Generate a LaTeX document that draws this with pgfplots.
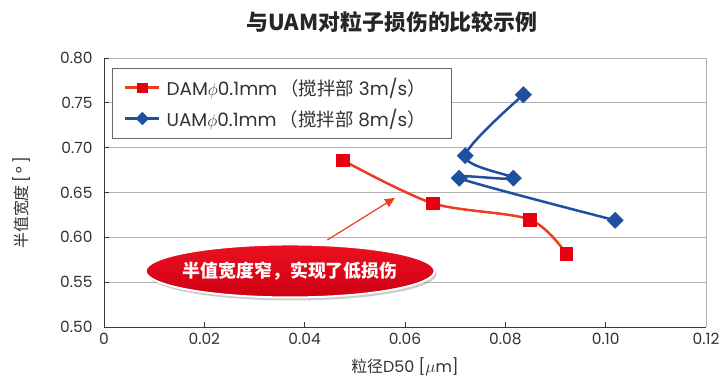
\documentclass[border=0pt]{standalone}
\usepackage{fontspec}
\setmainfont{Poppins}
\newfontfamily\cjk{Noto Sans CJK SC}
\usepackage{pgfplots}
\pgfplotsset{compat=1.18}
\usetikzlibrary{shapes.geometric,shadows,arrows.meta}
\definecolor{damred}{RGB}{230,0,18}
\definecolor{damline}{RGB}{234,62,30}
\definecolor{uamblue}{RGB}{31,80,160}
\definecolor{gridgray}{RGB}{178,178,178}
\definecolor{axisdark}{RGB}{60,55,55}
\definecolor{txt}{RGB}{50,50,50}
\definecolor{balloontop}{RGB}{236,16,32}
\definecolor{balloonbot}{RGB}{205,0,18}

\begin{document}
\begin{tikzpicture}
\path[use as bounding box] (0,0) rectangle (722bp,380bp);
\begin{axis}[
  at={(104bp,53bp)}, anchor=south west,
  scale only axis, width=602bp, height=269bp,
  xmin=0, xmax=0.12, ymin=0.5, ymax=0.8,
  xtick={0,0.02,0.04,0.06,0.08,0.10,0.12},
  xticklabels={0,0.02,0.04,0.06,0.08,0.10,0.12},
  ytick={0.50,0.55,0.60,0.65,0.70,0.75,0.80},
  yticklabels={0.50,0.55,0.60,0.65,0.70,0.75,0.80},
  axis lines*=left,
  axis line style={axisdark, line width=0.9bp},
  tick align=inside, major tick length=5bp,
  tick style={axisdark, line width=0.8bp},
  ymajorgrids, grid style={gridgray, line width=0.9bp},
  extra x ticks={0.12}, extra x tick labels={},
  extra x tick style={xmajorgrids, major tick length=0pt},
  ticklabel style={font=\fontsize{15.5}{18}\selectfont, text=txt},
  yticklabel style={xshift=-8bp},
  xticklabel style={yshift=-3bp},
  legend style={at={(rel axis cs:0.013,0.963)}, anchor=north west,
    draw=gray!80!black, line width=0.6bp,
    font=\fontsize{18.5}{21}\selectfont, text=txt,
    inner xsep=12bp, inner ysep=8bp, row sep=8bp,
    cells={anchor=west}},
  legend image code/.code={
    \draw[mark repeat=2, mark phase=2, #1, every mark/.append style={scale=0.78}]
      plot coordinates {(0bp,0bp) (17bp,0bp) (34bp,0bp)};},
]
\addplot[damline, line width=2.5bp, smooth, tension=0.5,
  mark=square*, mark size=6.3bp, mark options={fill=damred, draw=damred, line width=0.3bp}]
  coordinates {(0.0476,0.686) (0.0655,0.638) (0.0848,0.620) (0.0921,0.582)};
\addlegendentry{\hspace*{4bp}DAM$\phi$0.1mm\,{\cjk（搅拌部}\ 3m/s{\cjk）}\hspace*{12bp}}
\addplot[uamblue, line width=2.5bp, smooth, tension=0.5,
  mark=square*, mark size=5.8bp, mark options={rotate=45, fill=uamblue, draw=uamblue, line width=0.3bp}]
  coordinates {(0.0836,0.759) (0.0720,0.691) (0.0816,0.666) (0.0708,0.666) (0.1019,0.619)};
\addlegendentry{\hspace*{4bp}UAM$\phi$0.1mm\,{\cjk（搅拌部}\ 8m/s{\cjk）}\hspace*{12bp}}

\draw[-{Triangle[length=10bp,width=9bp]}, damline, line width=1.2bp]
  (axis cs:0.0445,0.597) -- (axis cs:0.0580,0.644);
\node[ellipse, inner sep=0pt, minimum width=289bp, minimum height=53bp, draw=white, line width=2bp,
  top color=balloontop, bottom color=balloonbot,
  drop shadow={shadow xshift=2bp, shadow yshift=-3bp, opacity=0.4}]
  at (axis cs:0.0371,0.5625) {};
\node[text=white, font=\cjk\bfseries\fontsize{18}{21}\selectfont]
  at (axis cs:0.0371,0.5625) {半值宽度窄，实现了低损伤};
\end{axis}
\node[font=\cjk\bfseries\fontsize{22}{25}\selectfont, text=black!85] at (392bp,358bp)
  {与UAM对粒子损伤的比较示例};
\node[rotate=90, font=\fontsize{16}{19}\selectfont, text=txt] at (22bp,177bp)
  {{\cjk 半值宽度}\,[\,°\,]};
\node[font=\fontsize{16}{19}\selectfont, text=txt] at (405bp,13bp)
  {{\cjk 粒径}D50 [$\mu$m]};
\end{tikzpicture}
\end{document}
